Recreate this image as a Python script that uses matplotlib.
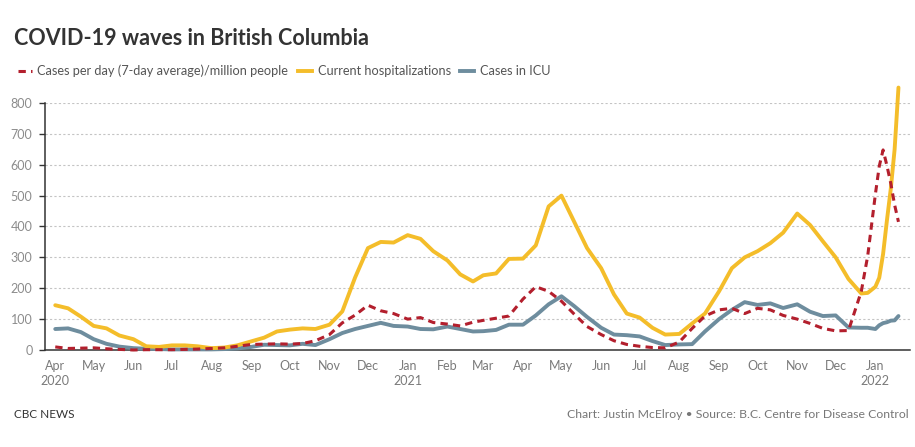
import numpy as np
import pandas as pd
import matplotlib
matplotlib.use('Agg')
import matplotlib.pyplot as plt
import matplotlib.dates as mdates
from matplotlib.lines import Line2D

plt.rcParams['font.family'] = ['Lato', 'DejaVu Sans']

# values (every ~10 days, denser at the end)
dates = pd.to_datetime([
    "2020-04-01", "2020-04-11", "2020-04-21", "2020-05-01", "2020-05-11", "2020-05-21",
    "2020-06-01", "2020-06-11", "2020-06-21", "2020-07-01", "2020-07-11", "2020-07-21",
    "2020-08-01", "2020-08-11", "2020-08-21", "2020-09-01", "2020-09-11", "2020-09-21",
    "2020-10-01", "2020-10-11", "2020-10-21", "2020-11-01", "2020-11-11", "2020-11-21",
    "2020-12-01", "2020-12-11", "2020-12-21", "2021-01-01", "2021-01-11", "2021-01-21",
    "2021-02-01", "2021-02-11", "2021-02-21", "2021-03-01", "2021-03-11", "2021-03-21",
    "2021-04-01", "2021-04-11", "2021-04-21", "2021-05-01", "2021-05-11", "2021-05-21",
    "2021-06-01", "2021-06-11", "2021-06-21", "2021-07-01", "2021-07-11", "2021-07-21",
    "2021-08-01", "2021-08-11", "2021-08-21", "2021-09-01", "2021-09-11", "2021-09-21",
    "2021-10-01", "2021-10-11", "2021-10-21", "2021-11-01", "2021-11-11", "2021-11-21",
    "2021-12-01", "2021-12-11", "2021-12-21", "2021-12-26", "2022-01-01", "2022-01-04",
    "2022-01-07", "2022-01-10", "2022-01-13", "2022-01-16", "2022-01-19"])

cases = [10, 5, 6, 7, 4, 2,
         0, 1, 1, 1, 2, 3,
         5, 7, 12, 18, 19, 20,
         19, 21, 30, 50, 88, 113,
         145, 127, 118, 100, 105, 89,
         84, 78, 90, 96, 103, 110,
         165, 205, 190, 158, 116, 76,
         50, 30, 18, 12, 8, 7,
         26, 70, 110, 130, 135, 118,
         135, 130, 112, 100, 86, 70,
         62, 63, 190, 305, 505, 595,
         648, 597, 540, 470, 415]

hospital = [145, 135, 108, 78, 70, 47,
            35, 12, 10, 15, 15, 12,
            6, 8, 15, 28, 40, 60,
            66, 70, 68, 82, 125, 235,
            330, 350, 348, 372, 360, 320,
            290, 245, 222, 242, 248, 295,
            296, 339, 465, 500, 415, 330,
            265, 180, 118, 105, 72, 50,
            52, 86, 118, 190, 265, 300,
            320, 346, 380, 442, 405, 352,
            300, 230, 183, 185, 205, 234,
            311, 420, 522, 650, 850]

icu = [68, 70, 58, 35, 20, 11,
       6, 4, 3, 2, 2, 2,
       2, 3, 5, 10, 17, 16,
       15, 20, 16, 35, 55, 68,
       78, 88, 78, 76, 68, 67,
       76, 68, 60, 61, 65, 82,
       82, 112, 148, 174, 142, 107,
       72, 50, 48, 44, 29, 16,
       18, 19, 60, 100, 130, 155,
       146, 151, 136, 148, 124, 110,
       112, 73, 72, 72, 68, 80,
       87, 90, 95, 96, 110]

labels = ['Cases per day (7-day average)/million people', 'Current hospitalizations', 'Cases in ICU']
yticks = [0, 100, 200, 300, 400, 500, 600, 700, 800]

RED = '#b31f2d'
YELLOW = '#f4bd2a'
BLUE = '#6e8d9e'

fig = plt.figure(figsize=(9.15, 4.47), dpi=100)
ax = fig.add_axes([45/915, 97/447, 865/915, 247/447])

ax.plot(dates, icu, color=BLUE, lw=2.8, solid_capstyle='round', solid_joinstyle='round',
        zorder=3, clip_on=False)
ax.plot(dates, hospital, color=YELLOW, lw=2.8, solid_capstyle='round', solid_joinstyle='round',
        zorder=4, clip_on=False)
ax.plot(dates, cases, color=RED, lw=2.2, dashes=(2.4, 1.7), zorder=5, clip_on=False)

ax.set_ylim(0, 800)
ax.set_xlim(pd.Timestamp('2020-03-24'), pd.Timestamp('2022-01-28'))
ax.set_yticks(yticks)
ax.yaxis.grid(True, linestyle=(0, (2, 2)), color='#c4c4c4', lw=0.8)
ax.set_axisbelow(True)

# month ticks, year on a second line
months = pd.date_range('2020-04-01', '2022-01-01', freq='MS')
mlabels = []
for m in months:
    s = m.strftime('%b')
    if m == months[0] or m.month == 1:
        s += '\n' + str(m.year)
    mlabels.append(s)
ax.set_xticks(months)
ax.set_xticklabels(mlabels, linespacing=1.35)
ax.tick_params(axis='x', length=0, pad=7, labelsize=9, labelcolor='#7a7a7a')
ax.tick_params(axis='y', length=4, width=1, color='#333333', pad=5,
               labelsize=9, labelcolor='#8c8c8c')

for s in ['top', 'right']:
    ax.spines[s].set_visible(False)
ax.spines['left'].set_color('#333333')
ax.spines['bottom'].set_color('#333333')
ax.spines['left'].set_linewidth(1.1)
ax.spines['bottom'].set_linewidth(1.1)

fig.text(14/915, 1 - 45/447, 'COVID-19 waves in British Columbia', fontsize=15.5,
         fontweight='bold', color='#333333', va='baseline')

handles = [Line2D([], [], color=RED, lw=2.2, dashes=(2.4, 1.7)),
           Line2D([], [], color=YELLOW, lw=2.8),
           Line2D([], [], color=BLUE, lw=2.8)]
fig.legend(handles, labels, loc='center left', bbox_to_anchor=(6/915, 1 - 71/447),
           ncol=3, frameon=False, fontsize=9.2, handlelength=1.1, handletextpad=0.45,
           columnspacing=0.75, labelcolor='#555555')

fig.text(14/915, 1 - 415/447, 'CBC NEWS', fontsize=8.5, color='#333333', va='center')
fig.text(909/915, 1 - 415/447, 'Chart: Justin McElroy \u2022 Source: B.C. Centre for Disease Control',
         fontsize=8.8, color='#777777', va='center', ha='right')

fig.savefig('out.png', dpi=100)
